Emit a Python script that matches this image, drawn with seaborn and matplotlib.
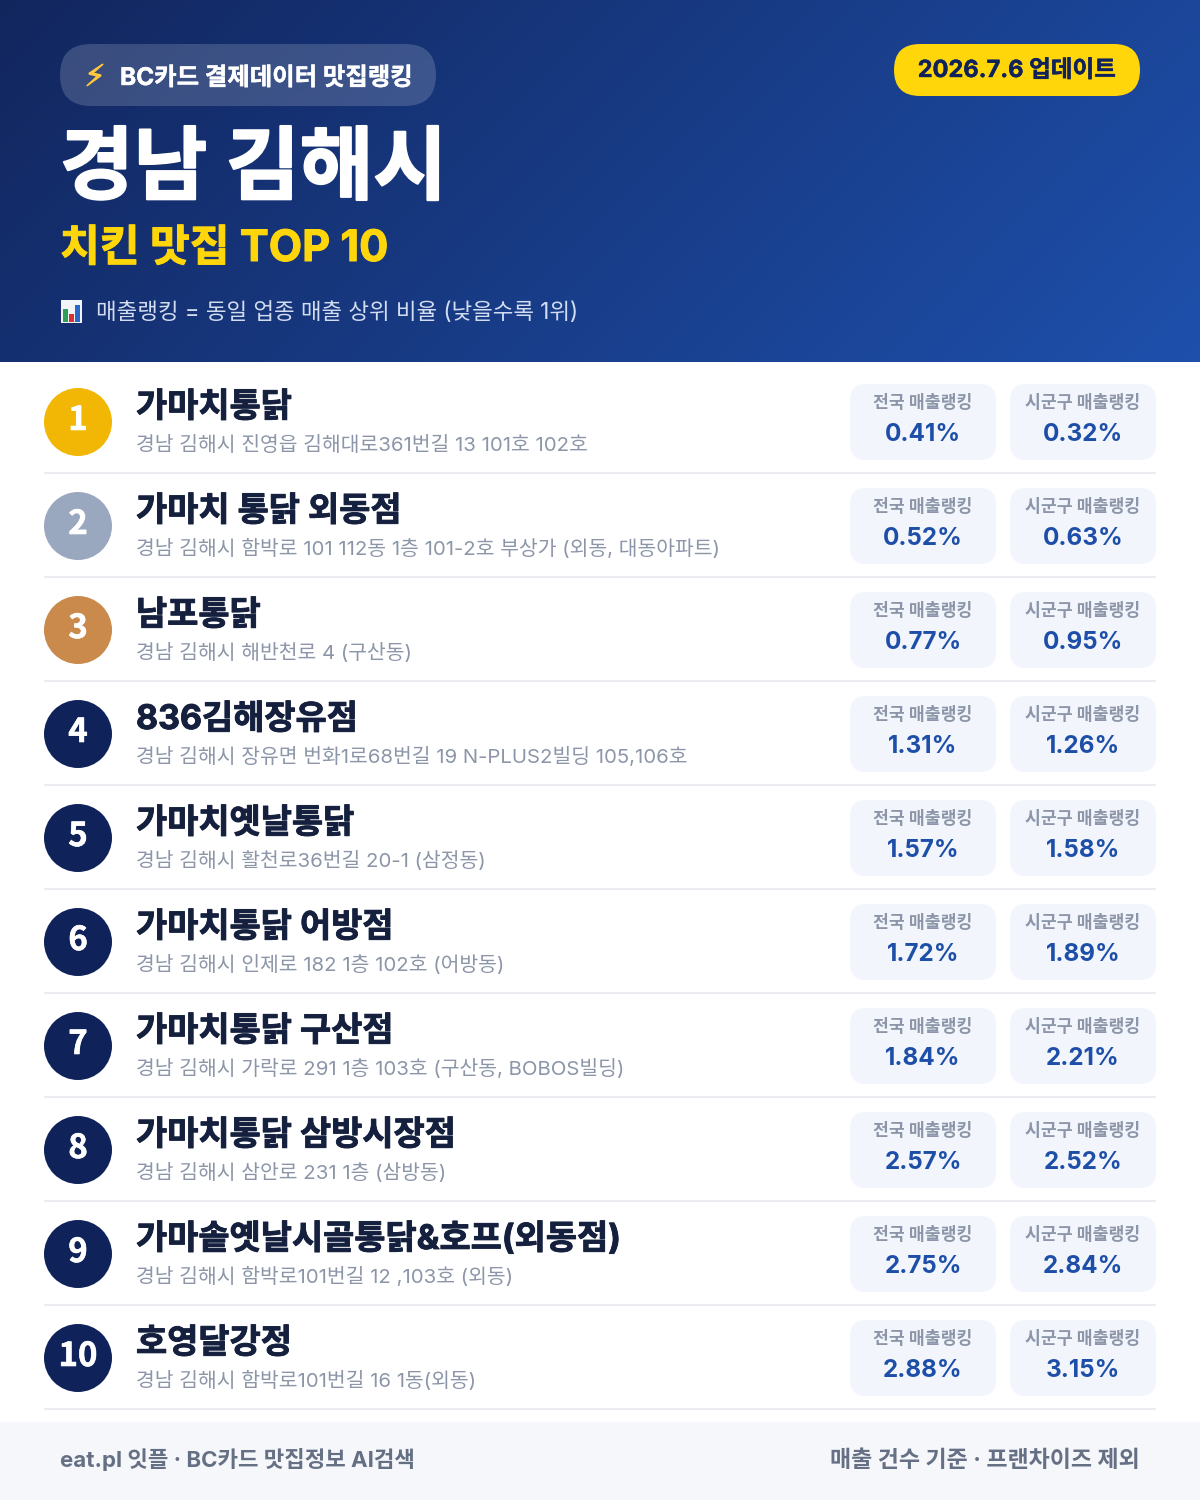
import numpy as np
import pandas as pd
import matplotlib
matplotlib.use("Agg")
import matplotlib.pyplot as plt
import matplotlib.patheffects as pe
from matplotlib.patches import FancyBboxPatch, Rectangle
import seaborn as sns

sns.set_theme(style="white")
FONTS = ['Inter', 'Noto Sans CJK KR', 'DejaVu Sans']
plt.rcParams['font.family'] = FONTS

ranks = [1, 2, 3, 4, 5, 6, 7, 8, 9, 10]
names = ["가마치통닭", "가마치 통닭 외동점", "남포통닭", "836김해장유점", "가마치옛날통닭",
         "가마치통닭 어방점", "가마치통닭 구산점", "가마치통닭 삼방시장점",
         "가마솥옛날시골통닭&호프(외동점)", "호영달강정"]
addresses = ["경남 김해시 진영읍 김해대로361번길 13 101호 102호",
             "경남 김해시 함박로 101 112동 1층 101-2호 부상가 (외동, 대동아파트)",
             "경남 김해시 해반천로 4 (구산동)",
             "경남 김해시 장유면 번화1로68번길 19 N-PLUS2빌딩 105,106호",
             "경남 김해시 활천로36번길 20-1 (삼정동)",
             "경남 김해시 인제로 182 1층 102호 (어방동)",
             "경남 김해시 가락로 291 1층 103호 (구산동, BOBOS빌딩)",
             "경남 김해시 삼안로 231 1층 (삼방동)",
             "경남 김해시 함박로101번길 12 ,103호 (외동)",
             "경남 김해시 함박로101번길 16 1동(외동)"]
national = [0.41, 0.52, 0.77, 1.31, 1.57, 1.72, 1.84, 2.57, 2.75, 2.88]
district = [0.32, 0.63, 0.95, 1.26, 1.58, 1.89, 2.21, 2.52, 2.84, 3.15]
badge_colors = ["#F2B705", "#9AA8BF", "#C98A4B"] + ["#10225A"] * 7

ROW = 104
df = pd.DataFrame({"rank": ranks, "x": 78, "y": [422 + ROW * i for i in range(10)]})

fig = plt.figure(figsize=(12, 15), dpi=100, facecolor="white")
ax = fig.add_axes([0, 0, 1, 1])
ax.set_xlim(0, 1200)
ax.set_ylim(1500, 0)
ax.axis("off")

# header gradient
gx, gy = np.meshgrid(np.linspace(0, 1, 300), np.linspace(0, 1, 90))
t = np.clip(gx * 0.77 + gy * 0.23, 0, 1)[..., None]
c0 = np.array([0x12, 0x26, 0x5E]) / 255
c1 = np.array([0x1E, 0x50, 0xAC]) / 255
ax.imshow(c0 + (c1 - c0) * t, extent=(0, 1200, 362, 0), aspect="auto", zorder=0)
ax.set_xlim(0, 1200)
ax.set_ylim(1500, 0)

def pill(x, y, w, h, r, fc, alpha=1.0, z=1):
    ax.add_patch(FancyBboxPatch((x + r, y + r), w - 2 * r, h - 2 * r,
                                boxstyle=f"round,pad={r},rounding_size={r}",
                                fc=fc, ec="none", alpha=alpha, zorder=z, mutation_aspect=1))

def txt(x, y, s, px, color, weight="normal", ha="left", family=None, stroke=0):
    t_ = ax.text(x, y, s, fontsize=px * 0.72, color=color, weight=weight, ha=ha, va="baseline",
                 zorder=5, family=family or FONTS)
    if stroke:
        t_.set_path_effects([pe.withStroke(linewidth=stroke * 0.72, foreground=color)])
    return t_

# header
pill(60, 44, 376, 62, 31, "#FFFFFF", alpha=0.17, z=2)
txt(95, 86, "⚡", 30, "#FFC83D", ha="center", family="DejaVu Sans", stroke=1)
txt(120, 85, "BC카드 결제데이터 맛집랭킹", 24.4, "#FFFFFF", "bold", stroke=0.4)
pill(894, 44, 246, 52, 26, "#FFD60A", z=2)
txt(1017, 77, "2026.7.6 업데이트", 23.6, "#10225A", "bold", ha="center", stroke=0.4)
txt(60, 193, "경남 김해시", 80, "#FFFFFF", "bold", stroke=2)
txt(60, 261, "치킨 맛집 TOP 10", 43.3, "#FFD60A", "bold", stroke=1)

# chart icon
ax.add_patch(Rectangle((61, 300), 21, 23, fc="#F2F4F7", ec="none", zorder=4))
ax.add_patch(Rectangle((63, 309), 5, 13, fc="#2E9E5B", ec="none", zorder=5))
ax.add_patch(Rectangle((69, 314), 5, 8, fc="#D8322F", ec="none", zorder=5))
ax.add_patch(Rectangle((75, 305), 5, 17, fc="#2C66C8", ec="none", zorder=5))
txt(96, 319, "매출랭킹 = 동일 업종 매출 상위 비율 (낮을수록 1위)", 22.45, "#D3DDF2")

# rank badges
sns.scatterplot(data=df, x="x", y="y", hue="rank", palette=badge_colors, legend=False,
                s=(68 * 0.72) ** 2, linewidth=0, ax=ax, zorder=3)
ax.set_xlabel("")
ax.set_ylabel("")

for i in range(10):
    cy = 422 + ROW * i
    txt(78, cy + 8, str(ranks[i]), 33, "#FFFFFF", "bold", ha="center",
        family="Noto Sans CJK KR", stroke=0.6)
    txt(136, cy - 5, names[i], 33.9, "#15203E", "bold", stroke=0.9)
    txt(136, cy + 29, addresses[i], 20.4, "#8C96A8")
    ax.plot([44, 1156], [cy + 51, cy + 51], color="#EAECF0", lw=1.5, solid_capstyle="butt", zorder=1)
    for x0, lab, val in ((850, "전국 매출랭킹", national[i]), (1010, "시군구 매출랭킹", district[i])):
        pill(x0, cy - 38, 146, 76, 16, "#F2F5FC", z=2)
        txt(x0 + 73, cy - 14, lab, 17.2, "#8C96A8", "bold", ha="center")
        txt(x0 + 73, cy + 19, f"{val:.2f}%", 24.2, "#1E4FA8", "bold", ha="center")

# footer
ax.add_patch(Rectangle((0, 1422), 1200, 78, fc="#F5F7FB", ec="none", zorder=1))
txt(60, 1467, "eat.pl 잇플 · BC카드 맛집정보 AI검색", 22.3, "#667085", "bold")
txt(1140, 1467, "매출 건수 기준 · 프랜차이즈 제외", 23, "#667085", "bold", ha="right")

fig.savefig("out.png", dpi=100, facecolor="white")
